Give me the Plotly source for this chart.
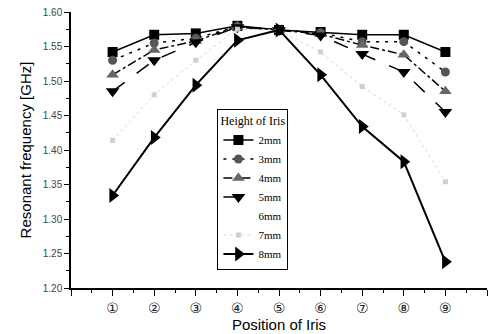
import plotly.graph_objects as go

positions = [1, 2, 3, 4, 5, 6, 7, 8, 9]
pos_labels = ["①", "②", "③", "④", "⑤", "⑥", "⑦", "⑧", "⑨"]

h2mm = [1.542, 1.567, 1.569, 1.580, 1.574, 1.571, 1.567, 1.567, 1.542]
h3mm = [1.530, 1.555, 1.562, 1.579, 1.574, 1.570, 1.557, 1.557, 1.513]
h4mm = [1.509, 1.545, 1.558, 1.579, 1.574, 1.568, 1.552, 1.538, 1.485]
h5mm = [1.485, 1.530, 1.556, 1.578, 1.574, 1.566, 1.539, 1.513, 1.455]
h7mm = [1.414, 1.480, 1.530, 1.575, 1.574, 1.542, 1.492, 1.451, 1.354]
h8mm = [1.334, 1.418, 1.494, 1.559, 1.574, 1.509, 1.434, 1.383, 1.238]

y_ticks = [1.20, 1.25, 1.30, 1.35, 1.40, 1.45, 1.50, 1.55, 1.60]

fig = go.Figure()

def add(name, ys, dash, symbol, mcolor, lcolor="black", size=10, lw=1.5):
    fig.add_trace(go.Scatter(
        x=positions, y=ys, name=name, mode="lines+markers",
        line=dict(color=lcolor, width=lw, dash=dash),
        marker=dict(symbol=symbol, size=size, color=mcolor),
    ))

add("2mm", h2mm, "solid", "square", "black", size=10)
add("3mm", h3mm, "3px,6px", "circle", "#555555", size=9)
add("4mm", h4mm, "dashdot", "triangle-up", "#666666", size=11)
add("5mm", h5mm, "longdash", "triangle-down", "black", size=12)
fig.add_trace(go.Scatter(x=[None], y=[None], name="6mm", mode="lines",
                         line=dict(color="rgba(0,0,0,0)", width=1)))
add("7mm", h7mm, "dot", "square", "#d0d0d0", lcolor="#d8d8d8", size=5, lw=1)
add("8mm", h8mm, "solid", "triangle-right", "black", size=13, lw=2)

fig.update_layout(
    width=490, height=334,
    margin=dict(l=71, r=3, t=12, b=46),
    paper_bgcolor="white", plot_bgcolor="white",
    font=dict(family="Liberation Sans", color="black"),
    showlegend=True,
    legend=dict(
        x=0.352, y=0.649, xanchor="left", yanchor="top",
        bgcolor="white", bordercolor="black", borderwidth=1,
        font=dict(family="Liberation Serif", size=11, color="black"),
        title=dict(text="Height of Iris", font=dict(family="Liberation Serif", size=12)),
        tracegroupgap=0,
    ),
)

fig.update_xaxes(
    range=[0, 10],
    tickmode="array", tickvals=list(range(0, 11)),
    ticktext=[""] + pos_labels + [""],
    ticks="outside", ticklen=6, tickwidth=1.2, tickcolor="black",
    showline=True, linecolor="black", linewidth=1.5,
    showgrid=False, zeroline=False,
    minor=dict(tickmode="linear", tick0=0, dtick=0.5, ticks="outside", ticklen=3, tickcolor="black"),
    tickfont=dict(family="DejaVu Sans", size=14, color="#222222"),
    title=dict(text="Position of Iris", font=dict(family="Liberation Sans", size=15), standoff=0),
)
fig.update_yaxes(
    range=[1.20, 1.60],
    tickmode="array", tickvals=y_ticks,
    ticktext=[f"{v:.2f}" for v in y_ticks],
    ticks="outside", ticklen=5, tickwidth=1.2, tickcolor="black",
    showline=True, linecolor="black", linewidth=1.5,
    showgrid=False, zeroline=False,
    minor=dict(tickmode="linear", tick0=1.2, dtick=0.025, ticks="outside", ticklen=3, tickcolor="black"),
    tickfont=dict(family="Liberation Sans", size=10, color="#444444"),
    title=dict(text="Resonant frequency [GHz]", font=dict(family="Liberation Sans", size=15), standoff=8),
)

fig.write_html("out.html")
